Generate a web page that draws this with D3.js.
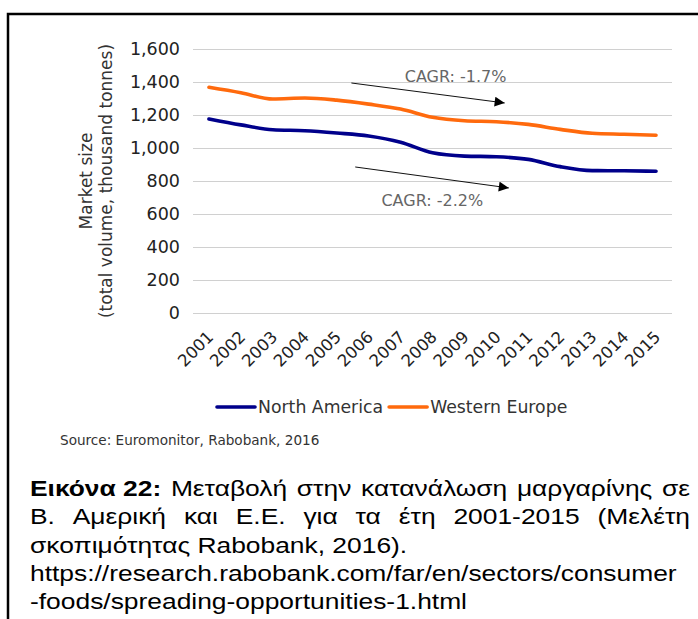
<!DOCTYPE html>
<html>
<head>
<meta charset="utf-8">
<script src="https://cdn.jsdelivr.net/npm/d3@7"></script>
<style>
  body { margin: 0; background: #fff; }
  svg { display: block; }
</style>
</head>
<body>
<script>
// Chart data
var years = [2001, 2002, 2003, 2004, 2005, 2006, 2007, 2008, 2009, 2010, 2011, 2012, 2013, 2014, 2015];
var northAmerica = [1176, 1140, 1111, 1105, 1091, 1073, 1035, 971, 951, 947, 931, 887, 863, 862, 859];
var westernEurope = [1368, 1335, 1297, 1303, 1290, 1266, 1236, 1186, 1165, 1159, 1143, 1113, 1089, 1083, 1077];
var yTicks = [0, 200, 400, 600, 800, 1000, 1200, 1400, 1600];
var seriesNames = ["North America", "Western Europe"];
var seriesColors = ["#00008b", "#ff6a0d"];

// CAGR arrows, in (year index, value) space
var cagrLabels = ["CAGR: -1.7%", "CAGR: -2.2%"];
var arrowFrom = [[4.46, 1394], [4.58, 885]];
var arrowTo = [[9.26, 1273], [9.39, 758]];
var labelAt = [[6.13, 1402], [5.40, 648]];

var yTitle = ["Market size", "(total volume, thousand tonnes)"];
var source = "Source: Euromonitor, Rabobank, 2016";

var captionLines = [
  [{t: "Εικόνα 22:", b: true}, {t: "Μεταβολή"}, {t: "στην"}, {t: "κατανάλωση"}, {t: "μαργαρίνης"}, {t: "σε"}],
  [{t: "Β."}, {t: "Αμερική"}, {t: "και"}, {t: "Ε.Ε."}, {t: "για"}, {t: "τα"}, {t: "έτη"}, {t: "2001-2015"}, {t: "(Μελέτη"}],
  [{t: "σκοπιμότητας Rabobank, 2016)."}],
  [{t: "https://research.rabobank.com/far/en/sectors/consumer"}],
  [{t: "-foods/spreading-opportunities-1.html"}]
];
var captionJustified = [true, true, false, false, false];

var svgWidth = 698;
var svgHeight = 619;
var margin = {top: 49, right: 26, bottom: 306, left: 193};
var chartWidth = svgWidth - margin.left - margin.right;
var chartHeight = svgHeight - margin.top - margin.bottom;

var svg = d3.select("body")
  .append("svg")
  .attr("width", svgWidth)
  .attr("height", svgHeight);

svg.append("rect").attr("width", svgWidth).attr("height", svgHeight).attr("fill", "#fff");

// frame
svg.append("path")
  .attr("d", "M8," + svgHeight + "V14H" + svgWidth)
  .attr("fill", "none")
  .attr("stroke", "#000")
  .attr("stroke-width", 2.5);

var defs = svg.append("defs");
defs.append("marker")
  .attr("id", "arrowhead")
  .attr("viewBox", "0 0 10 10")
  .attr("refX", 10).attr("refY", 5)
  .attr("markerWidth", 12).attr("markerHeight", 10)
  .attr("markerUnits", "userSpaceOnUse")
  .attr("orient", "auto")
  .append("path")
  .attr("d", "M0,0L10,5L0,10z")
  .attr("fill", "#000");

var chartGroup = svg.append("g")
  .attr("transform", `translate(${margin.left}, ${margin.top})`);

var xScale = d3.scalePoint()
  .domain(years)
  .range([0, chartWidth])
  .padding(0.5);

// continuous version of x for annotations
var xIndex = d3.scaleLinear()
  .domain([0, years.length - 1])
  .range([xScale(years[0]), xScale(years[years.length - 1])]);

var yScale = d3.scaleLinear()
  .domain([0, 1600])
  .range([chartHeight, 0]);

// gridlines + y labels
var leftAxis = d3.axisLeft(yScale)
  .tickValues(yTicks)
  .tickSize(-chartWidth)
  .tickPadding(13)
  .tickFormat(d3.format(","));

var yAxisG = chartGroup.append("g").call(leftAxis);
yAxisG.select(".domain").remove();
yAxisG.selectAll(".tick line").attr("stroke", "#d0d0d0").attr("stroke-width", 1);
yAxisG.selectAll(".tick text")
  .attr("fill", "#222")
  .style("font", "17.5px 'DejaVu Sans'");

// year labels
var bottomAxis = d3.axisBottom(xScale).tickSize(0).tickPadding(0);
var xAxisG = chartGroup.append("g")
  .attr("transform", `translate(0, ${chartHeight})`)
  .call(bottomAxis);
xAxisG.select(".domain").remove();
xAxisG.selectAll(".tick text")
  .attr("text-anchor", "end")
  .attr("y", 0).attr("dy", 0)
  .attr("transform", "translate(5, 25) rotate(-45)")
  .attr("fill", "#222")
  .style("font", "16.5px 'DejaVu Sans'");

// y title
var yTitleG = svg.append("g")
  .attr("transform", `translate(0, ${margin.top + chartHeight / 2}) rotate(-90)`);
yTitleG.selectAll("text")
  .data(yTitle)
  .join("text")
  .attr("x", 0)
  .attr("y", (d, i) => 92 + i * 20)
  .attr("text-anchor", "middle")
  .attr("fill", "#333")
  .style("font", "17px 'DejaVu Sans'")
  .text(d => d);

// lines
var drawLine = d3.line()
  .x((d, i) => xScale(years[i]))
  .y(d => yScale(d))
  .curve(d3.curveMonotoneX);

[northAmerica, westernEurope].forEach(function(values, i) {
  chartGroup.append("path")
    .attr("d", drawLine(values))
    .attr("fill", "none")
    .attr("stroke", seriesColors[i])
    .attr("stroke-width", 3.6)
    .attr("stroke-linecap", "round")
    .attr("stroke-linejoin", "round");
});

// CAGR arrows and labels
cagrLabels.forEach(function(label, i) {
  chartGroup.append("line")
    .attr("x1", xIndex(arrowFrom[i][0]))
    .attr("y1", yScale(arrowFrom[i][1]))
    .attr("x2", xIndex(arrowTo[i][0]))
    .attr("y2", yScale(arrowTo[i][1]))
    .attr("stroke", "#111")
    .attr("stroke-width", 1)
    .attr("marker-end", "url(#arrowhead)");
  chartGroup.append("text")
    .attr("x", xIndex(labelAt[i][0]))
    .attr("y", yScale(labelAt[i][1]))
    .attr("fill", "#666")
    .style("font", "16px 'DejaVu Sans'")
    .text(label);
});

// legend
var legend = svg.append("g").attr("transform", "translate(217, 407)");
var legendX = 0;
seriesNames.forEach(function(name, i) {
  var g = legend.append("g").attr("transform", `translate(${legendX}, 0)`);
  g.append("line")
    .attr("x1", 0).attr("x2", 38)
    .attr("stroke", seriesColors[i])
    .attr("stroke-width", 3.6)
    .attr("stroke-linecap", "round");
  var t = g.append("text")
    .attr("x", 41)
    .attr("y", 6)
    .attr("fill", "#333")
    .style("font", "17.3px 'DejaVu Sans'")
    .text(name);
  legendX += 41 + t.node().getComputedTextLength() + 6;
});

// source
svg.append("text")
  .attr("x", 60)
  .attr("y", 445)
  .attr("fill", "#333")
  .style("font", "13.6px 'DejaVu Sans'")
  .text(source);

// caption (Arial-like, a bit stretched horizontally as in the picture)
var capScale = 1.2;
var capLeft = 30;
var capRight = 690;
var capBaselines = [496, 524, 552.5, 581, 609];
var capFont = "22px 'Liberation Sans', Arial, sans-serif";

captionLines.forEach(function(words, li) {
  var g = svg.append("g")
    .attr("transform", `translate(${capLeft}, ${capBaselines[li]}) scale(${capScale}, 1)`);
  var nodes = words.map(function(w) {
    return g.append("text")
      .attr("fill", "#000")
      .style("font", capFont)
      .style("font-weight", w.b ? "bold" : "normal")
      .text(w.t);
  });
  var widths = nodes.map(n => n.node().getComputedTextLength());
  var target = (capRight - capLeft) / capScale;
  var gap = 6.1;
  if (captionJustified[li] && nodes.length > 1) {
    gap = (target - d3.sum(widths)) / (nodes.length - 1);
  }
  var x = 0;
  nodes.forEach(function(n, i) {
    n.attr("x", x);
    x += widths[i] + gap;
  });
});
</script>
</body>
</html>
